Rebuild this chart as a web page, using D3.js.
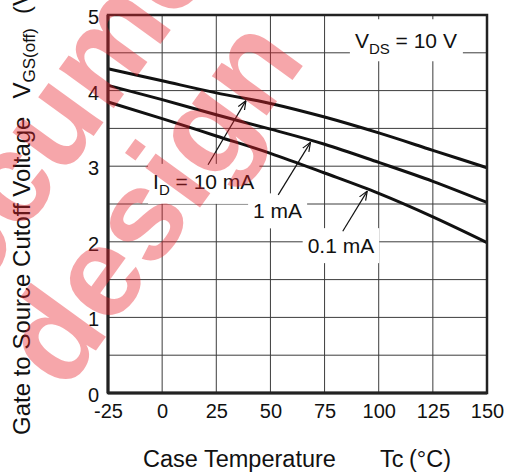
<!DOCTYPE html>
<html><head><meta charset="utf-8">
<script src="https://cdn.jsdelivr.net/npm/d3@7"></script>
<style>body{margin:0;background:#fff;overflow:hidden}svg{display:block}</style>
</head><body><svg id="c" width="511" height="474"></svg>
<script>
// ---- data ----
const temps = [-25, 0, 25, 50, 75, 100, 125, 150];
const vgs10mA = [4.29, 4.13, 3.97, 3.83, 3.65, 3.44, 3.21, 2.98];
const vgs1mA = [4.07, 3.88, 3.68, 3.49, 3.29, 3.05, 2.80, 2.52];
const vgs01mA = [3.85, 3.63, 3.40, 3.17, 2.91, 2.64, 2.33, 1.99];
const xTickLabels = [-25, 0, 25, 50, 75, 100, 125, 150];
const yTickLabels = [0, 1, 2, 3, 4, 5];
const yGridValues = [0.5, 1, 1.5, 2, 2.5, 3, 3.5, 4, 4.5];
const seriesNames = ["10 mA", "1 mA", "0.1 mA"];
// label anchor (temp, volt), arrow start (temp, volt), arrow tip temperature
const labelTemps = [-4.2, 42.0, 67.2];
const labelVolts = [2.70, 2.31, 1.85];
const arrowFromTemps = [21.2, 53.6, 83.4];
const arrowFromVolts = [3.02, 2.62, 2.14];
const arrowTipTemps = [38.7, 68.5, 94.7];

const svg = d3.select("#c");
const FONT = "'Liberation Sans', Arial, sans-serif";
const x = d3.scaleLinear().domain([-25, 150]).range([108, 487]);
const y = d3.scaleLinear().domain([0, 5]).range([393, 15]);

// grid
const grid = svg.append("g").attr("stroke", "#3c3c3c").attr("stroke-width", 1);
grid.selectAll("line.v").data(xTickLabels.slice(1, -1)).join("line")
  .attr("x1", d => x(d)).attr("x2", d => x(d)).attr("y1", y(0)).attr("y2", y(5));
grid.selectAll("line.h").data(yGridValues).join("line")
  .attr("y1", d => y(d)).attr("y2", d => y(d)).attr("x1", x(-25)).attr("x2", x(150));

// labels with white boxes
const lab = svg.append("g").attr("font-family", FONT).attr("font-size", 21).attr("fill", "#111");
function addLabel(g, tx, ty, parts, pad) {
  const t = g.append("text").attr("x", tx).attr("y", ty);
  parts.forEach(p => {
    const s = t.append("tspan").text(p.t);
    if (p.sub) s.attr("font-size", 15).attr("dy", 6);
    if (p.up) s.attr("dy", -6);
  });
  const b = t.node().getBBox();
  g.insert("rect", "text").attr("x", b.x - pad[3]).attr("y", b.y - pad[0])
    .attr("width", b.width + pad[1] + pad[3]).attr("height", b.height + pad[0] + pad[2])
    .attr("fill", "#fff");
}
const labelParts = [
  [{t: "I"}, {t: "D", sub: true}, {t: " = 10 mA", up: true}],
  [{t: "1 mA"}],
  [{t: "0.1 mA"}]
];
labelParts.forEach((parts, i) => {
  const g = lab.append("g");
  addLabel(g, x(labelTemps[i]), y(labelVolts[i]), parts, [6, 5, 6, 5]);
});
// V_DS label
{
  const g = lab.append("g");
  addLabel(g, x(89), y(4.56), [{t: "V"}, {t: "DS", sub: true}, {t: " = 10 V", up: true}], [10, 6, 4, 5]);
}

// curves
const line = d3.line().x((d, i) => x(temps[i])).y(d => y(d)).curve(d3.curveMonotoneX);
const seriesVals = [vgs10mA, vgs1mA, vgs01mA];
svg.append("g").selectAll("path").data(seriesVals).join("path")
  .attr("d", line).attr("fill", "none").attr("stroke", "#111").attr("stroke-width", 3);

// arrows
const interp = (arr, t) => d3.scaleLinear().domain(temps).range(arr)(t);
svg.append("defs").append("marker").attr("id", "ah").attr("viewBox", "0 0 10 10")
  .attr("refX", 10).attr("refY", 5).attr("markerWidth", 9).attr("markerHeight", 9)
  .attr("markerUnits", "userSpaceOnUse").attr("orient", "auto")
  .append("path").attr("d", "M0,1 L10,5 L0,9").attr("fill", "none").attr("stroke", "#111").attr("stroke-width", 1.3);
svg.append("g").selectAll("line").data(seriesNames).join("line")
  .attr("x1", (d, i) => x(arrowFromTemps[i])).attr("y1", (d, i) => y(arrowFromVolts[i]))
  .attr("x2", (d, i) => x(arrowTipTemps[i])).attr("y2", (d, i) => y(interp(seriesVals[i], arrowTipTemps[i])) + 2)
  .attr("stroke", "#111").attr("stroke-width", 1.2).attr("marker-end", "url(#ah)");

// frame
svg.append("rect").attr("x", x(-25)).attr("y", y(5)).attr("width", x(150) - x(-25)).attr("height", y(0) - y(5))
  .attr("fill", "none").attr("stroke", "#222").attr("stroke-width", 2.5);
svg.append("line").attr("x1", x(-25)).attr("x2", x(-25)).attr("y1", y(5)).attr("y2", y(0)).attr("stroke", "#222").attr("stroke-width", 3);
svg.append("line").attr("x1", x(-25)).attr("x2", x(150)).attr("y1", y(0)).attr("y2", y(0)).attr("stroke", "#222").attr("stroke-width", 3);

// axes
const xAxis = svg.append("g").attr("transform", `translate(0,${y(0)})`)
  .call(d3.axisBottom(x).tickValues(xTickLabels).tickSize(0).tickPadding(11).tickFormat(d => String(d)));
const yAxis = svg.append("g").attr("transform", `translate(${x(-25)},0)`)
  .call(d3.axisLeft(y).tickValues(yTickLabels).tickSize(0).tickPadding(9).tickFormat(d => String(d)));
[xAxis, yAxis].forEach(a => {
  a.select(".domain").remove();
  a.selectAll("text").attr("font-family", FONT).attr("font-size", 20).attr("fill", "#111");
});
yAxis.selectAll("text").attr("dy", "0.42em");

// axis titles
const xt = svg.append("text").attr("font-family", FONT).attr("font-size", 23.5).attr("fill", "#111").attr("y", 467);
xt.append("tspan").attr("x", 143).text("Case Temperature");
xt.append("tspan").attr("x", 380).text("Tc");
xt.append("tspan").attr("x", 451).attr("text-anchor", "end").text("(°C)");

const yt = svg.append("text").attr("font-family", FONT).attr("font-size", 24).attr("fill", "#111")
  .attr("transform", "translate(30,435) rotate(-90)");
yt.append("tspan").attr("x", 0).text("Gate to Source Cutoff Voltage");
yt.append("tspan").attr("dx", 18).text("V");
yt.append("tspan").attr("font-size", 17).attr("dy", 5).text("GS(off)");
yt.append("tspan").attr("dx", 14).attr("dy", -5).text("(V)");

// watermark
const wm = svg.append("g").attr("font-family", FONT).attr("font-weight", "bold").attr("font-size", 128)
  .attr("fill", "#e8202a").attr("fill-opacity", 0.4).attr("text-anchor", "middle");
wm.append("text").attr("transform", "translate(68,95) rotate(-54)").attr("dy", "0.35em").text("Document");
wm.append("text").attr("transform", "translate(150,200) rotate(-54)").attr("dy", "0.35em").text("design");
</script>
</body></html>
